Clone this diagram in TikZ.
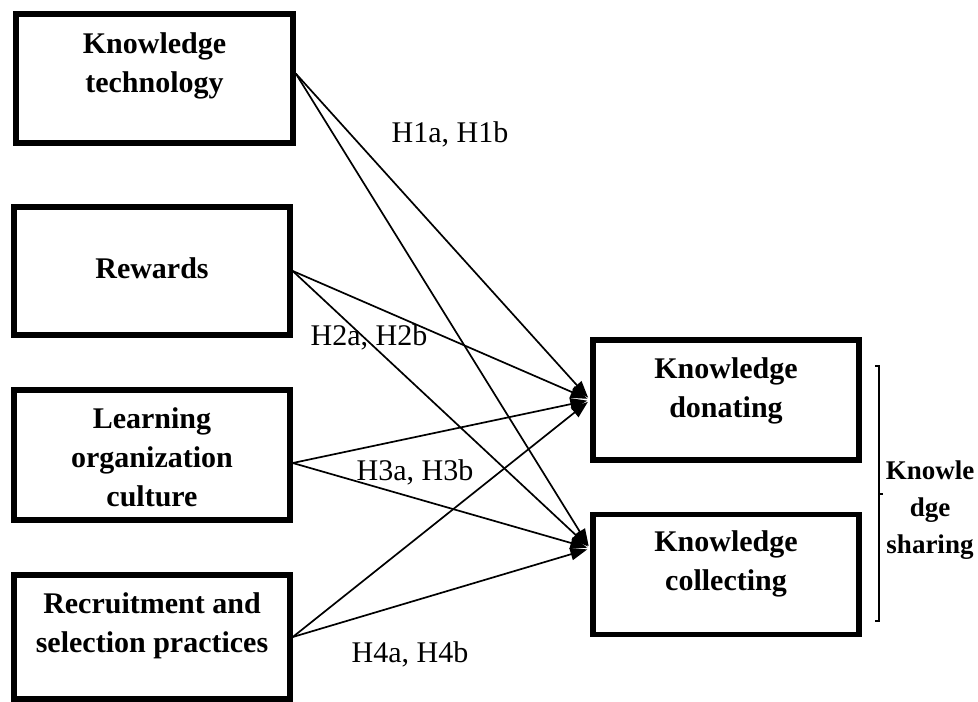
\documentclass[tikz,border=0pt]{standalone}
\usepackage{fontspec}
\setmainfont{Liberation Serif}
\usetikzlibrary{arrows.meta}

\begin{document}
\begin{tikzpicture}[
  x=1pt, y=-1pt,
  >={Triangle[length=17pt, width=12pt]},
  edge/.style={->, line width=1.7pt, draw=black, shorten >=3pt},
  var/.style={draw=black, line width=5.5pt, inner sep=0pt,
              minimum width=277pt, minimum height=129pt},
  dep/.style={var, minimum width=266pt, minimum height=120pt},
  vtxt/.style={align=center, inner sep=0pt,
               font=\fontsize{30}{39}\selectfont\bfseries},
  hyp/.style={anchor=base, inner sep=0pt, font=\fontsize{30}{36}\selectfont},
  grp/.style={align=center, inner sep=0pt,
              font=\fontsize{27}{36.7}\selectfont\bfseries}
]
\useasboundingbox (0,0) rectangle (978,702);

% ---------- antecedents ----------
\node[var, label={[vtxt, yshift=12.7pt]center:{Knowledge\\technology}}]
  (kt) at (154.5,78.5) {};
\node[var, minimum width=276pt, minimum height=128pt,
      label={[vtxt, yshift=3pt]center:{Rewards}}]
  (rw) at (152,271) {};
\node[var, minimum width=276pt, minimum height=130pt,
      label={[vtxt, yshift=-2.5pt]center:{Learning\\organization\\culture}}]
  (lc) at (152,455) {};
\node[var, minimum width=276pt, minimum height=124pt,
      label={[vtxt, yshift=11pt]center:{Recruitment and\\selection practices}}]
  (rs) at (152,637) {};

% ---------- knowledge sharing ----------
\node[dep, label={[vtxt, yshift=9pt]center:{Knowledge\\donating}}]
  (kd) at (726,400) {};
\node[dep, label={[vtxt, yshift=10.5pt]center:{Knowledge\\collecting}}]
  (kc) at (726,574.5) {};
\coordinate (kcin) at ([yshift=26pt]kc.west);

% ---------- edges ----------
\draw[edge] ([yshift=5pt]kt.east) -- (kd.west);
\draw[edge] ([yshift=5pt]kt.east) -- (kcin);
\draw[edge] (rw.east) -- (kd.west);
\draw[edge] (rw.east) -- (kcin);
\draw[edge] ([yshift=-8pt]lc.east) -- (kd.west);
\draw[edge] ([yshift=-8pt]lc.east) -- (kcin);
\draw[edge] (rs.east) -- (kd.west);
\draw[edge] (rs.east) -- (kcin);

% ---------- hypotheses ----------
\node[hyp] (h1) at (450,142) {H1a, H1b};
\node[hyp] (h2) at (369,345) {H2a, H2b};
\node[hyp] (h3) at (415,480) {H3a, H3b};
\node[hyp] (h4) at (410,662) {H4a, H4b};

% ---------- bracket ----------
\draw[line width=1.3pt] (875,366) -- (879,366) -- (879,621) -- (875,621);
\draw[line width=1.3pt] (879,494) -- (883,494);
\node[grp] (ks) at (930,510) {Knowle\\dge\\sharing};

\end{tikzpicture}
\end{document}
